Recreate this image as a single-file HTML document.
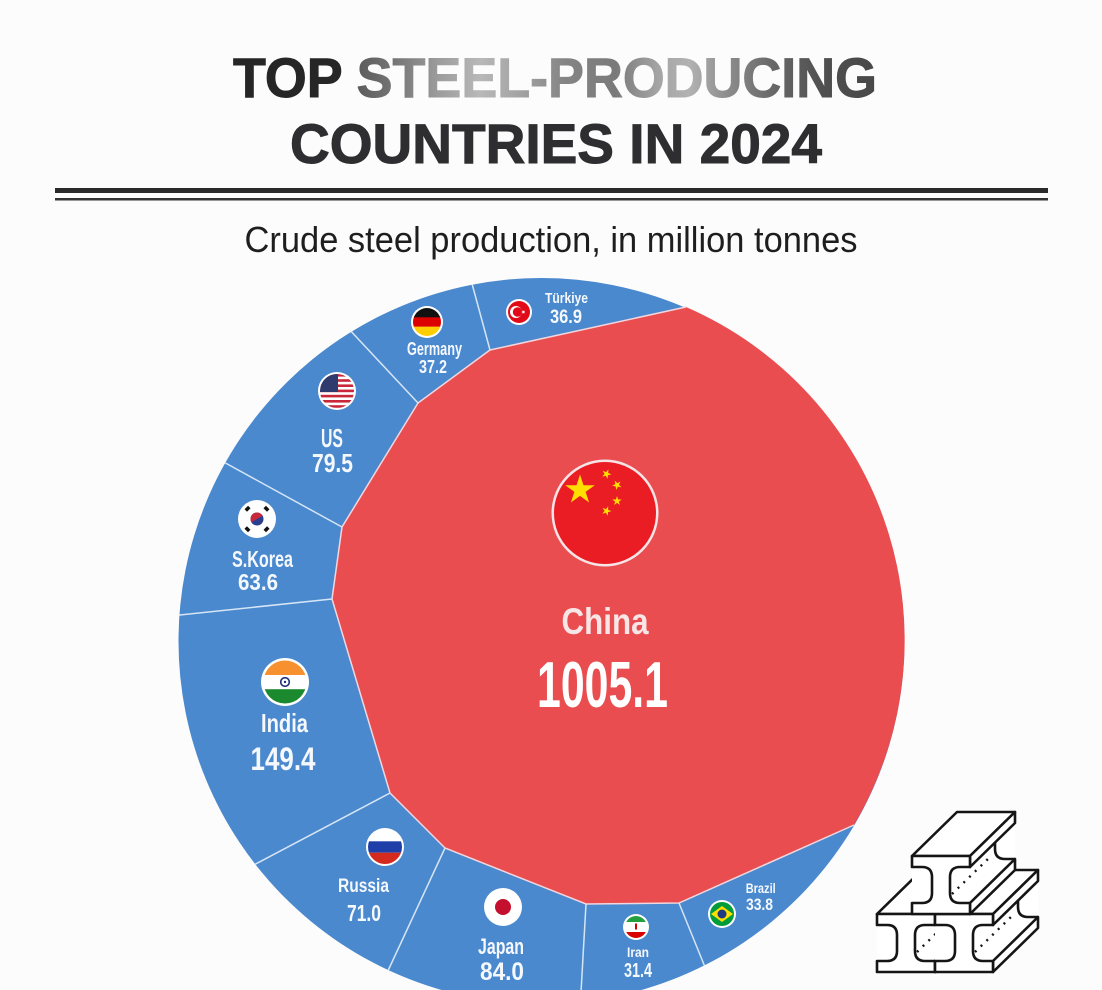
<!DOCTYPE html>
<html>
<head>
<meta charset="utf-8">
<style>
  html,body{margin:0;padding:0;background:#fcfcfc;}
  body{width:1102px;height:990px;overflow:hidden;}
  svg{display:block;}
  .lbl{font-family:"Liberation Sans",sans-serif;font-weight:bold;fill:#f5f8fc;}
</style>
</head>
<body>
<svg width="1102" height="990" viewBox="0 0 1102 990" xmlns="http://www.w3.org/2000/svg">
  <defs>
    <clipPath id="circ"><circle cx="541.5" cy="641" r="363"/></clipPath>
    <path id="star" d="M0,-1 L0.2245,-0.309 L0.9511,-0.309 L0.3633,0.118 L0.5878,0.809 L0,0.382 L-0.5878,0.809 L-0.3633,0.118 L-0.9511,-0.309 L-0.2245,-0.309 Z"/>
    <linearGradient id="steel" gradientUnits="userSpaceOnUse" x1="355" y1="0" x2="877" y2="0">
      <stop offset="0" stop-color="#5a5a5a"/>
      <stop offset="0.08" stop-color="#777"/>
      <stop offset="0.16" stop-color="#9c9c9c"/>
      <stop offset="0.24" stop-color="#b8b8b8"/>
      <stop offset="0.32" stop-color="#a2a2a2"/>
      <stop offset="0.4" stop-color="#858585"/>
      <stop offset="0.5" stop-color="#7a7a7a"/>
      <stop offset="0.58" stop-color="#a4a4a4"/>
      <stop offset="0.64" stop-color="#b2b2b2"/>
      <stop offset="0.72" stop-color="#8a8a8a"/>
      <stop offset="0.8" stop-color="#686868"/>
      <stop offset="0.9" stop-color="#4f4f4f"/>
      <stop offset="1" stop-color="#484848"/>
    </linearGradient>
    <clipPath id="cpTR"><circle cx="519" cy="312" r="11"/></clipPath>
    <clipPath id="cpDE"><circle cx="427" cy="322" r="14"/></clipPath>
    <clipPath id="cpUS"><circle cx="337" cy="391" r="17"/></clipPath>
    <clipPath id="cpKR"><circle cx="257" cy="519" r="17"/></clipPath>
    <clipPath id="cpIN"><circle cx="285" cy="682" r="21.5"/></clipPath>
    <clipPath id="cpRU"><circle cx="385" cy="847" r="17"/></clipPath>
    <clipPath id="cpIR"><circle cx="636" cy="927" r="11"/></clipPath>
    <clipPath id="cpBR"><circle cx="722" cy="914" r="12"/></clipPath>
    <clipPath id="cpCN"><circle cx="605" cy="513" r="51"/></clipPath>
    <g id="beam" stroke="#151515" stroke-width="2.6" stroke-linejoin="round" fill="#fff">
      <path d="M0,0 L45,-44 L103,-44 L103,14 L58,58 L0,58 Z" stroke="none"/>
      <path d="M0,0 L45,-44 L103,-44 L58,0 Z"/>
      <path d="M58,0 L103,-44 L103,-33 L58,11 Z"/>
      <path d="M58,47 L103,3 L103,14 L58,58 Z"/>
      <path d="M83,-14 L83,-7 Q83,3 93,3 L103,3" fill="none"/>
      <path d="M40,38 L78,1" fill="none" stroke-dasharray="2 6" stroke-width="2.4"/>
      <path d="M0,0 H58 V11 H48 Q38,11 38,21 V37 Q38,47 48,47 H58 V58 H0 V47 H10 Q20,47 20,37 V21 Q20,11 10,11 H0 Z"/>
    </g>
  </defs>

  <!-- Title -->
  <text x="555" y="97" text-anchor="middle" textLength="644" lengthAdjust="spacingAndGlyphs"
        font-family="Liberation Sans, sans-serif" font-weight="bold" font-size="56"
        stroke-width="1" ><tspan fill="#262626" stroke="#262626">TOP </tspan><tspan fill="url(#steel)" stroke="url(#steel)">STEEL-PRODUCING</tspan></text>
  <text x="556" y="163" text-anchor="middle" textLength="532" lengthAdjust="spacingAndGlyphs"
        font-family="Liberation Sans, sans-serif" font-weight="bold" font-size="56"
        fill="#2e2e30" stroke="#2e2e30" stroke-width="1">COUNTRIES IN 2024</text>

  <rect x="55" y="188" width="993" height="5" fill="#2a2a2a"/>
  <rect x="55" y="198" width="993" height="2.5" fill="#333"/>

  <text x="551" y="252" text-anchor="middle" textLength="613" lengthAdjust="spacingAndGlyphs"
        font-family="Liberation Sans, sans-serif" font-size="36" fill="#1e1e1e">Crude steel production, in million tonnes</text>

  <!-- Big circle -->
  <circle cx="541.5" cy="641" r="363" fill="#4a89ce"/>
  <path d="M686,307 L490,350 L418,403 L342,527 L332,599 L390,793 L445,848 L586,904 L679,903 L854,825 A363,363 0 0 0 686,307 Z" fill="#e94d4f"/>

  <g clip-path="url(#circ)" stroke="#d6e5f5" stroke-width="1.5" fill="none">
    <line x1="490" y1="350" x2="471" y2="280"/>
    <line x1="418" y1="403" x2="347" y2="327"/>
    <line x1="342" y1="527" x2="220" y2="460"/>
    <line x1="332" y1="599" x2="170" y2="616"/>
    <line x1="390" y1="793" x2="250" y2="867"/>
    <line x1="445" y1="848" x2="386" y2="975"/>
    <line x1="586" y1="904" x2="580" y2="1010"/>
    <line x1="679" y1="903" x2="707" y2="972"/>
  </g>
  <polyline points="686,307 490,350 418,403 342,527 332,599 390,793 445,848 586,904 679,903 854,825" fill="none" stroke="#f1d6de" stroke-width="1.5"/>

  <!-- China flag -->
  <circle cx="605" cy="513" r="53.5" fill="#f6e4e6"/>
  <g clip-path="url(#cpCN)">
    <rect x="550" y="460" width="110" height="110" fill="#ea1c24"/>
    <use href="#star" transform="translate(580,490) scale(15.5)" fill="#ffde00"/>
    <use href="#star" transform="translate(606.5,474) rotate(23) scale(5)" fill="#ffde00"/>
    <use href="#star" transform="translate(617,485) rotate(45) scale(5)" fill="#ffde00"/>
    <use href="#star" transform="translate(617,501) rotate(0) scale(5)" fill="#ffde00"/>
    <use href="#star" transform="translate(606.5,511) rotate(20) scale(5)" fill="#ffde00"/>
  </g>
  <text class="lbl" x="605" y="634" text-anchor="middle" textLength="87" lengthAdjust="spacingAndGlyphs" font-size="37.5" style="fill:#f8e6e7">China</text>
  <text class="lbl" x="602.5" y="707" text-anchor="middle" textLength="131" lengthAdjust="spacingAndGlyphs" font-size="65" style="fill:#ffffff">1005.1</text>

  <!-- Türkiye -->
  <circle cx="519" cy="312" r="13" fill="#fff"/>
  <g clip-path="url(#cpTR)">
    <rect x="505" y="298" width="28" height="28" fill="#e30a17"/>
    <circle cx="516" cy="312" r="6" fill="#fff"/>
    <circle cx="517.6" cy="312" r="4.8" fill="#e30a17"/>
    <use href="#star" transform="translate(523.3,312) rotate(-18) scale(2.3)" fill="#fff"/>
  </g>
  <text class="lbl" x="566.5" y="303" text-anchor="middle" textLength="43" lengthAdjust="spacingAndGlyphs" font-size="15">Türkiye</text>
  <text class="lbl" x="566" y="323" text-anchor="middle" textLength="32" lengthAdjust="spacingAndGlyphs" font-size="19">36.9</text>

  <!-- Germany -->
  <circle cx="427" cy="322" r="16" fill="#fff"/>
  <g clip-path="url(#cpDE)">
    <rect x="410" y="306" width="34" height="11.5" fill="#111"/>
    <rect x="410" y="317.3" width="34" height="9.5" fill="#dd0000"/>
    <rect x="410" y="326.7" width="34" height="12" fill="#ffce00"/>
  </g>
  <text class="lbl" x="434.5" y="355" text-anchor="middle" textLength="55" lengthAdjust="spacingAndGlyphs" font-size="18">Germany</text>
  <text class="lbl" x="433" y="373" text-anchor="middle" textLength="28" lengthAdjust="spacingAndGlyphs" font-size="18">37.2</text>

  <!-- US -->
  <circle cx="337" cy="391" r="19" fill="#fff"/>
  <g clip-path="url(#cpUS)">
    <rect x="318" y="372" width="38" height="38" fill="#fff"/>
    <rect x="318" y="374" width="38" height="2.6" fill="#c8283a"/>
    <rect x="318" y="379.2" width="38" height="2.6" fill="#c8283a"/>
    <rect x="318" y="384.4" width="38" height="2.6" fill="#c8283a"/>
    <rect x="318" y="389.6" width="38" height="2.6" fill="#c8283a"/>
    <rect x="318" y="394.8" width="38" height="2.6" fill="#c8283a"/>
    <rect x="318" y="400" width="38" height="2.6" fill="#c8283a"/>
    <rect x="318" y="405.2" width="38" height="2.6" fill="#c8283a"/>
    <rect x="318" y="372" width="20" height="20" fill="#2f3a6e"/>
  </g>
  <text class="lbl" x="332" y="447" text-anchor="middle" textLength="22" lengthAdjust="spacingAndGlyphs" font-size="26">US</text>
  <text class="lbl" x="332.5" y="472" text-anchor="middle" textLength="41" lengthAdjust="spacingAndGlyphs" font-size="26">79.5</text>

  <!-- S.Korea -->
  <circle cx="257" cy="519" r="19" fill="#fff"/>
  <g clip-path="url(#cpKR)">
    <rect x="238" y="500" width="38" height="38" fill="#fff"/>
    <circle cx="257" cy="519" r="6.5" fill="#2a3f8f"/>
    <path d="M250.5,519 A6.5,6.5 0 0 1 263.5,519 Z" fill="#c8283a" transform="rotate(-30 257 519)"/>
    <g fill="#111">
      <rect x="245" y="507" width="5" height="3.5" transform="rotate(-45 247.5 508.7)"/>
      <rect x="264" y="507" width="5" height="3.5" transform="rotate(45 266.5 508.7)"/>
      <rect x="245" y="527.5" width="5" height="3.5" transform="rotate(45 247.5 529.2)"/>
      <rect x="264" y="527.5" width="5" height="3.5" transform="rotate(-45 266.5 529.2)"/>
    </g>
  </g>
  <text class="lbl" x="262.5" y="567" text-anchor="middle" textLength="61" lengthAdjust="spacingAndGlyphs" font-size="23">S.Korea</text>
  <text class="lbl" x="258" y="590" text-anchor="middle" textLength="40" lengthAdjust="spacingAndGlyphs" font-size="23">63.6</text>

  <!-- India -->
  <circle cx="285" cy="682" r="24" fill="#fff"/>
  <g clip-path="url(#cpIN)">
    <rect x="262" y="659" width="46" height="16" fill="#f7912f"/>
    <rect x="262" y="675" width="46" height="14.2" fill="#fff"/>
    <rect x="262" y="689.2" width="46" height="16" fill="#1b8a2e"/>
    <circle cx="285" cy="682" r="4.3" fill="none" stroke="#1d2f7a" stroke-width="1.6"/>
    <circle cx="285" cy="682" r="1.2" fill="#1d2f7a"/>
  </g>
  <text class="lbl" x="284.5" y="732" text-anchor="middle" textLength="47" lengthAdjust="spacingAndGlyphs" font-size="26">India</text>
  <text class="lbl" x="283" y="770" text-anchor="middle" textLength="65" lengthAdjust="spacingAndGlyphs" font-size="32">149.4</text>

  <!-- Russia -->
  <circle cx="385" cy="847" r="19" fill="#fff"/>
  <g clip-path="url(#cpRU)">
    <rect x="366" y="828" width="38" height="13.3" fill="#fff"/>
    <rect x="366" y="841.3" width="38" height="11.4" fill="#1f3fa8"/>
    <rect x="366" y="852.7" width="38" height="13" fill="#d52b1e"/>
  </g>
  <text class="lbl" x="363.5" y="892" text-anchor="middle" textLength="51" lengthAdjust="spacingAndGlyphs" font-size="19">Russia</text>
  <text class="lbl" x="364" y="921" text-anchor="middle" textLength="34" lengthAdjust="spacingAndGlyphs" font-size="23">71.0</text>

  <!-- Japan -->
  <circle cx="503" cy="907" r="19" fill="#fff"/>
  <circle cx="503" cy="907" r="8" fill="#c4102e"/>
  <text class="lbl" x="501" y="954" text-anchor="middle" textLength="46" lengthAdjust="spacingAndGlyphs" font-size="22">Japan</text>
  <text class="lbl" x="502" y="980" text-anchor="middle" textLength="44" lengthAdjust="spacingAndGlyphs" font-size="25">84.0</text>

  <!-- Iran -->
  <circle cx="636" cy="927" r="13" fill="#fff"/>
  <g clip-path="url(#cpIR)">
    <rect x="623" y="914" width="26" height="8" fill="#239f40"/>
    <rect x="623" y="922" width="26" height="10" fill="#fff"/>
    <rect x="623" y="932" width="26" height="8" fill="#da0000"/>
    <rect x="635" y="923.5" width="2" height="6" fill="#da0000"/>
  </g>
  <text class="lbl" x="638" y="957" text-anchor="middle" textLength="22" lengthAdjust="spacingAndGlyphs" font-size="14">Iran</text>
  <text class="lbl" x="638" y="977" text-anchor="middle" textLength="28" lengthAdjust="spacingAndGlyphs" font-size="20">31.4</text>

  <!-- Brazil -->
  <circle cx="722" cy="914" r="14" fill="#fff"/>
  <g clip-path="url(#cpBR)">
    <rect x="708" y="900" width="28" height="28" fill="#009c3b"/>
    <path d="M711,914 L722,906 L733,914 L722,922 Z" fill="#ffdf00"/>
    <circle cx="722" cy="914" r="4.5" fill="#1d3a82"/>
  </g>
  <text class="lbl" x="760.7" y="893" text-anchor="middle" textLength="30" lengthAdjust="spacingAndGlyphs" font-size="14">Brazil</text>
  <text class="lbl" x="759.5" y="910" text-anchor="middle" textLength="27" lengthAdjust="spacingAndGlyphs" font-size="17">33.8</text>

  <!-- Steel beams icon -->
  <use href="#beam" transform="translate(877,914)"/>
  <use href="#beam" transform="translate(935,914)"/>
  <use href="#beam" transform="translate(912,856)"/>
</svg>
</body>
</html>
